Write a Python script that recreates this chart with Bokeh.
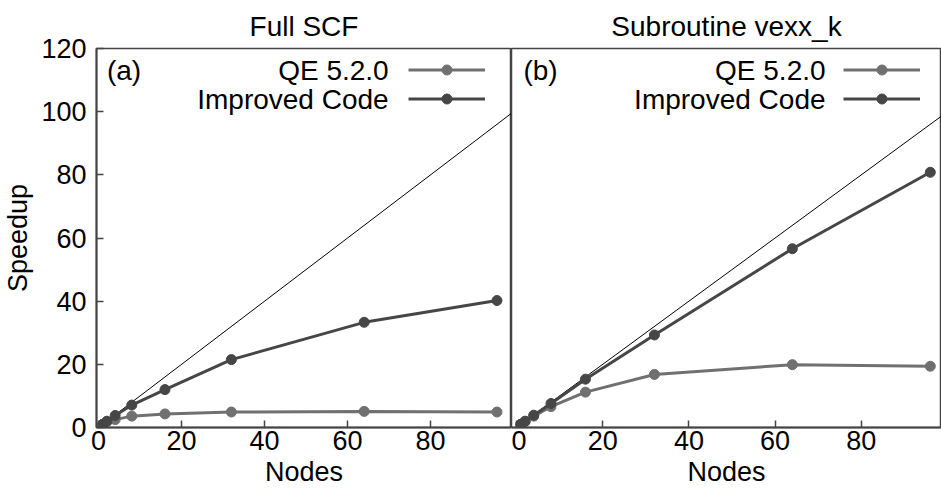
from bokeh.plotting import figure
from bokeh.layouts import row
from bokeh.models import Legend, LegendItem, Label, Range1d
from bokeh.embed import file_html
from bokeh.resources import INLINE

# ---- data ----
nodes = [1, 2, 4, 8, 16, 32, 64, 96]
scf_qe = [1.0, 1.8, 2.5, 3.6, 4.3, 4.9, 5.1, 4.9]
scf_improved = [1.0, 2.0, 3.8, 7.1, 12.0, 21.5, 33.3, 40.2]
vexx_qe = [1.0, 1.9, 3.6, 6.6, 11.2, 16.8, 19.9, 19.4]
vexx_improved = [1.0, 2.0, 3.9, 7.6, 15.3, 29.3, 56.6, 80.8]
ideal_nodes = [0, 100]
ideal_speedup = [0, 100]
x_ticks = [0, 20, 40, 60, 80]
y_ticks = [0, 20, 40, 60, 80, 100, 120]
titles = ["Full SCF", "Subroutine vexx_k"]
panel_tags = ["(a)", "(b)"]
series_names = ["QE 5.2.0", "Improved Code"]

FONT = "Liberation Sans"
FS = "27px"
FS_BIG = "28px"
QE_COLOR = "#707070"
IMP_COLOR = "#464646"
AX_COLOR = "#444444"
H = 489


def make_panel(title, qe, imp, tag, x_range, width, left_axis, legend_x, label_x, tag_x):
    p = figure(width=width, height=H, output_backend="svg", toolbar_location=None,
               x_range=Range1d(*x_range), y_range=Range1d(0, 120),
               y_axis_location="left" if left_axis else None,
               min_border_left=95 if left_axis else 0, min_border_right=0,
               min_border_top=48, min_border_bottom=62)
    p.title.text = title
    p.title.align = "center"
    p.title.text_font = FONT
    p.title.text_font_size = FS_BIG
    p.title.text_font_style = "normal"
    p.title.text_color = "black"
    p.title.standoff = 13

    p.outline_line_color = AX_COLOR
    p.outline_line_width = 1.5
    p.xgrid.visible = False
    p.ygrid.visible = False
    p.background_fill_color = "white"
    p.border_fill_color = "white"

    for ax in p.axis:
        ax.axis_line_color = AX_COLOR
        ax.axis_line_width = 2
        ax.major_tick_line_color = AX_COLOR
        ax.major_tick_line_width = 1.5
        ax.major_tick_in = 7
        ax.major_tick_out = 0
        ax.minor_tick_in = 0
        ax.minor_tick_out = 0
        ax.major_label_text_font = FONT
        ax.major_label_text_font_size = FS
        ax.major_label_text_color = "black"
        ax.axis_label_text_font = FONT
        ax.axis_label_text_font_size = FS
        ax.axis_label_text_font_style = "normal"
        ax.axis_label_text_color = "black"

    p.xaxis.ticker = x_ticks
    p.xaxis.axis_label = "Nodes"
    p.xaxis.major_label_standoff = 3
    p.xaxis.axis_label_standoff = 4
    if left_axis:
        p.yaxis.ticker = y_ticks
        p.yaxis.axis_label = "Speedup"
        p.yaxis.major_label_standoff = 10
        p.yaxis.axis_label_standoff = 5

    # ideal scaling
    p.line(ideal_nodes, ideal_speedup, line_color="black", line_width=1)

    l_qe = p.line(nodes, qe, line_color=QE_COLOR, line_width=3)
    s_qe = p.scatter(nodes, qe, size=10, fill_color=QE_COLOR, line_color=QE_COLOR)
    l_imp = p.line(nodes, imp, line_color=IMP_COLOR, line_width=3)
    s_imp = p.scatter(nodes, imp, size=10, fill_color=IMP_COLOR, line_color=IMP_COLOR)

    legend = Legend(items=[LegendItem(label=" ", renderers=[l_qe, s_qe]),
                           LegendItem(label=" ", renderers=[l_imp, s_imp])],
                    location=(legend_x, 316.5), glyph_width=77, glyph_height=25,
                    spacing=4, padding=0, margin=0, label_width=0, label_standoff=0,
                    label_height=0, label_text_font_size="1px",
                    border_line_color=None, background_fill_alpha=0)
    p.add_layout(legend)

    for name, yy in zip(series_names, [113.0, 103.8]):
        p.add_layout(Label(x=label_x, y=yy, text=name, text_align="right",
                           text_baseline="middle", text_font=FONT,
                           text_font_size=FS_BIG, text_color="black"))
    p.add_layout(Label(x=tag_x, y=113.0, text=tag, text_align="left",
                       text_baseline="middle", text_font=FONT,
                       text_font_size=FS_BIG, text_color="black"))
    return p


p1 = make_panel(titles[0], scf_qe, scf_improved, panel_tags[0], (-0.5, 99.5), 511, True,
                312, 69.9, 2.0)
p2 = make_panel(titles[1], vexx_qe, vexx_improved, panel_tags[1], (-1.16, 98.6), 430, False,
                332, 71.7, 1.6)

layout = row(p1, p2)
open("out.html", "w").write(file_html(layout, INLINE))
